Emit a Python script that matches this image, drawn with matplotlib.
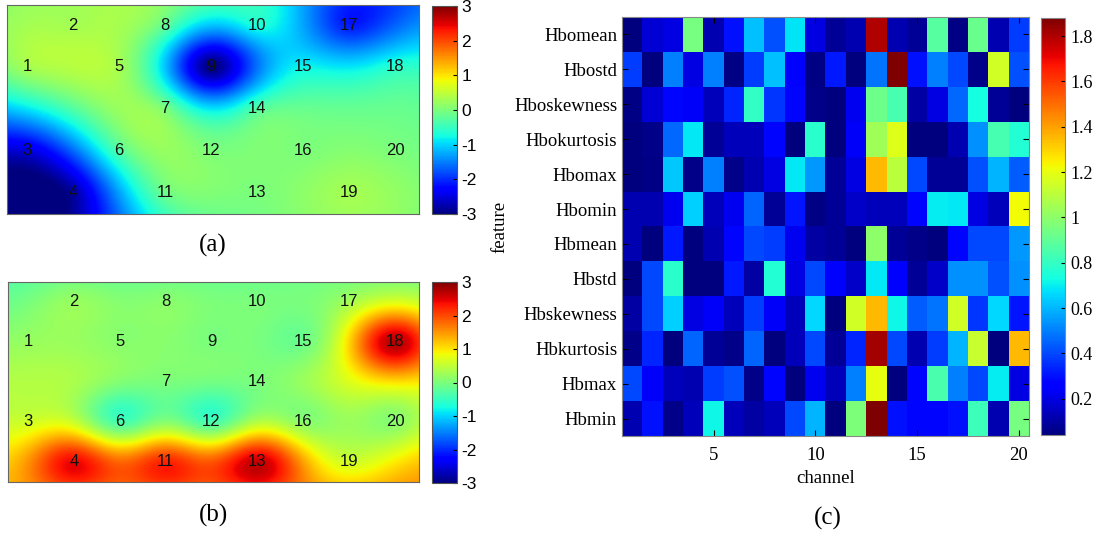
import numpy as np
import matplotlib
matplotlib.use("Agg")
import matplotlib.pyplot as plt

plt.rcParams['axes.unicode_minus'] = False

# channel layout on the topographic grid (column, row)
chan_col = [1, 2, 1, 2, 3, 3, 4, 4, 5, 6, 4, 5, 6, 6, 7, 7, 8, 9, 8, 9]
chan_row = [2, 1, 4, 5, 2, 4, 3, 1, 2, 1, 5, 4, 5, 3, 2, 4, 1, 2, 5, 4]

# channel values for map (a) and map (b)
vals_a = [0.3, 0.3, -2.5, -2.8, 0.3, -0.3, 0.0, -0.2, -3.0, -0.7,
          -0.1, 0.0, 0.0, -0.3, -0.8, 0.0, -2.1, -0.6, 0.3, 0.0]
vals_b = [0.2, 0.2, 0.6, 2.4, 0.1, -0.4, 0.0, 0.1, 0.0, 0.0,
          2.2, -0.4, 2.6, 0.0, -0.1, 0.1, 0.3, 2.7, 0.6, 0.1]

# heatmap (c)
features = ['Hbomean', 'Hbostd', 'Hboskewness', 'Hbokurtosis', 'Hbomax', 'Hbomin',
            'Hbmean', 'Hbstd', 'Hbskewness', 'Hbkurtosis', 'Hbmax', 'Hbmin']
heat = np.array([
    [0.04, 0.18, 0.20, 0.95, 0.12, 0.30, 0.62, 0.42, 0.68, 0.20, 0.08, 0.12, 1.80, 0.12, 0.08, 0.88, 0.05, 0.92, 0.12, 0.38],
    [0.38, 0.04, 0.50, 0.20, 0.50, 0.05, 0.38, 0.62, 0.25, 0.05, 0.32, 0.04, 0.48, 1.88, 0.30, 0.50, 0.40, 0.06, 1.15, 0.42],
    [0.05, 0.18, 0.28, 0.24, 0.14, 0.34, 0.80, 0.37, 0.28, 0.06, 0.04, 0.22, 0.93, 0.84, 0.10, 0.20, 0.46, 0.73, 0.08, 0.04],
    [0.04, 0.06, 0.46, 0.69, 0.08, 0.14, 0.14, 0.28, 0.04, 0.78, 0.04, 0.24, 1.04, 1.18, 0.04, 0.04, 0.12, 0.53, 0.84, 0.76],
    [0.04, 0.05, 0.63, 0.06, 0.50, 0.06, 0.12, 0.20, 0.69, 0.55, 0.08, 0.20, 1.35, 1.10, 0.40, 0.08, 0.08, 0.42, 0.60, 0.44],
    [0.12, 0.12, 0.22, 0.65, 0.14, 0.22, 0.45, 0.08, 0.31, 0.05, 0.08, 0.16, 0.14, 0.14, 0.28, 0.70, 0.69, 0.20, 0.14, 1.22],
    [0.12, 0.04, 0.32, 0.04, 0.12, 0.28, 0.40, 0.38, 0.22, 0.10, 0.08, 0.04, 1.00, 0.08, 0.06, 0.04, 0.28, 0.40, 0.40, 0.55],
    [0.04, 0.40, 0.78, 0.04, 0.04, 0.32, 0.10, 0.76, 0.20, 0.40, 0.25, 0.16, 0.69, 0.27, 0.08, 0.16, 0.53, 0.53, 0.42, 0.53],
    [0.10, 0.40, 0.65, 0.20, 0.24, 0.14, 0.38, 0.24, 0.14, 0.66, 0.04, 1.15, 1.35, 0.72, 0.44, 0.48, 1.15, 0.37, 0.66, 0.31],
    [0.06, 0.34, 0.04, 0.45, 0.08, 0.06, 0.45, 0.04, 0.14, 0.40, 0.08, 0.34, 1.82, 0.40, 0.12, 0.38, 0.60, 1.13, 0.04, 1.35],
    [0.40, 0.24, 0.14, 0.12, 0.38, 0.42, 0.06, 0.28, 0.04, 0.22, 0.14, 0.50, 1.20, 0.04, 0.28, 0.85, 0.50, 0.40, 0.70, 0.20],
    [0.12, 0.30, 0.06, 0.14, 0.72, 0.14, 0.10, 0.14, 0.40, 0.60, 0.04, 0.96, 1.88, 0.30, 0.28, 0.28, 0.30, 0.82, 0.12, 0.95],
])

W, H = 1096, 533
fig = plt.figure(figsize=(W / 100, H / 100), dpi=100)

def box(l, t, r, b):
    return [l / W, 1 - b / H, (r - l) / W, (b - t) / H]

px = np.array(chan_col, float)
gx = np.linspace(0.565, 9.52, 300)
gy = np.linspace(0.52, 5.52, 160)

# (a): spline in tension, g(r) = K0(p r) + ln(p r), K0 tabulated from its integral
tt = np.linspace(0, 12, 4000)
xs = np.linspace(1e-4, 60, 6000)
k0 = np.trapezoid(np.exp(-xs[:, None] * np.cosh(tt)[None, :]), tt, axis=1)
hx = k0 + np.log(xs)

def topo_tension(vals, p=0.6, yscale=1.15):
    py = np.array(chan_row, float) * yscale
    g = lambda r: np.interp(p * r, xs, hx, left=np.log(2) - 0.5772157)
    n = len(px)
    d = np.hypot(px[:, None] - px[None, :], py[:, None] - py[None, :])
    A = np.ones((n + 1, n + 1))
    A[:n, :n] = g(d)
    A[n, n] = 0
    sol = np.linalg.solve(A, np.append(np.array(vals, float), 0))
    X, Y = np.meshgrid(gx, gy * yscale)
    dd = np.hypot(X[..., None] - px, Y[..., None] - py)
    return g(dd) @ sol[:n] + sol[n]

# (b): gaussian rbf with a linear trend
def topo_rbf(vals, s=1.0, yscale=1.2):
    py = np.array(chan_row, float) * yscale
    k = lambda r: np.exp(-(r / s) ** 2)
    n = len(px)
    d = np.hypot(px[:, None] - px[None, :], py[:, None] - py[None, :])
    P = np.column_stack([np.ones(n), px, py])
    A = np.zeros((n + 3, n + 3))
    A[:n, :n] = k(d)
    A[:n, n:] = P
    A[n:, :n] = P.T
    sol = np.linalg.solve(A, np.append(np.array(vals, float), [0, 0, 0]))
    X, Y = np.meshgrid(gx, gy * yscale)
    dd = np.hypot(X[..., None] - px, Y[..., None] - py)
    return k(dd) @ sol[:n] + sol[n] + sol[n + 1] * X + sol[n + 2] * Y

def draw_topo(ax_box, cb_box, Z, label, label_y):
    ax = fig.add_axes(box(*ax_box))
    img = ax.imshow(Z, cmap='jet', vmin=-3, vmax=3, extent=(0.565, 9.52, 5.52, 0.52),
                    aspect='auto', interpolation='bilinear')
    for i in range(20):
        ax.text(chan_col[i], chan_row[i], str(i + 1), ha='center', va='center',
                fontsize=12, family='Liberation Sans', color='#111111')
    ax.set_xticks([])
    ax.set_yticks([])
    for sp in ax.spines.values():
        sp.set_color('#666666')
    cax = fig.add_axes(box(*cb_box))
    cb = fig.colorbar(img, cax=cax, ticks=range(-3, 4))
    cb.outline.set_edgecolor('#555555')
    cax.tick_params(direction='in', length=3, labelsize=12.5, pad=3)
    for t in cax.get_yticklabels():
        t.set_family('Liberation Sans')
    fig.text((ax_box[0] + ax_box[2]) / 2 / W, 1 - label_y / H, label, ha='center', va='center',
             fontsize=18, family='Liberation Serif')

draw_topo((7, 5, 419, 214), (432, 6, 457, 214), topo_tension(vals_a), '(a)', 245)
draw_topo((8, 282, 419, 482), (432, 282, 457, 483), topo_rbf(vals_b), '(b)', 515)

# heatmap (c)
ax = fig.add_axes(box(622, 17, 1029, 436))
im = ax.imshow(heat, cmap='jet', vmin=0.04, vmax=1.88, aspect='auto',
               interpolation='nearest', extent=(0.5, 20.5, 12.5, 0.5))
ax.set_xticks([5, 10, 15, 20])
ax.set_yticks(np.arange(1, 13))
ax.set_yticklabels(features)
ax.tick_params(direction='in', length=4, top=True, right=True, labelsize=13.5, colors='black')
ax.tick_params(axis='x', pad=8)
for t in ax.get_xticklabels() + ax.get_yticklabels():
    t.set_family('Liberation Serif')
ax.set_xlabel('channel', family='Liberation Serif', fontsize=13.5, labelpad=4)
ax.set_ylabel('feature', family='Liberation Serif', fontsize=13.5, labelpad=4)
for sp in ax.spines.values():
    sp.set_color('#888888')

cax = fig.add_axes(box(1041, 18, 1065, 435))
cb = fig.colorbar(im, cax=cax, ticks=[0.2, 0.4, 0.6, 0.8, 1, 1.2, 1.4, 1.6, 1.8])
cb.ax.set_yticklabels(['0.2', '0.4', '0.6', '0.8', '1', '1.2', '1.4', '1.6', '1.8'])
cb.outline.set_edgecolor('#888888')
cax.tick_params(direction='in', length=3, labelsize=13, pad=4)
for t in cax.get_yticklabels():
    t.set_family('Liberation Serif')

fig.text(828 / W, 1 - 518 / H, '(c)', ha='center', va='center', fontsize=18, family='Liberation Serif')

fig.savefig('out.png', dpi=100)
